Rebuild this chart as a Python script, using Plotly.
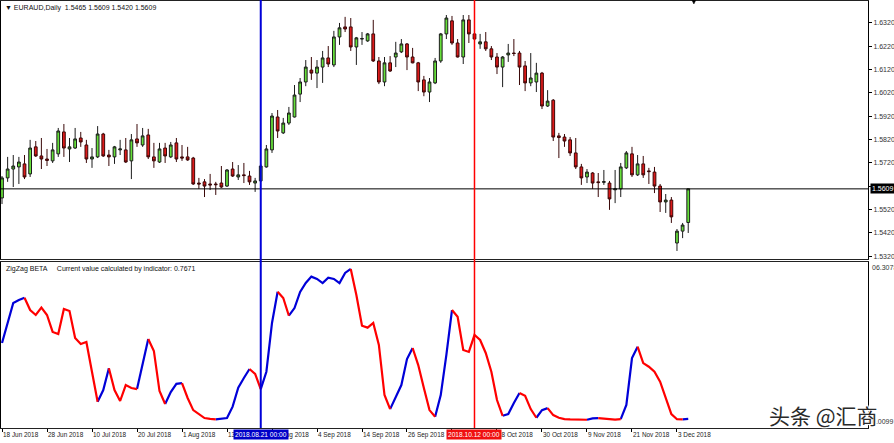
import plotly.graph_objects as go

# ---------------- data ----------------
bar_index = list(range(123))

opens = [1.5570, 1.5656, 1.5694, 1.5703, 1.5716, 1.5673, 1.5789, 1.5750, 1.5737, 1.5729,
         1.5759, 1.5853, 1.5780, 1.5784, 1.5827, 1.5797, 1.5737, 1.5746, 1.5844, 1.5754,
         1.5746, 1.5776, 1.5776, 1.5729, 1.5823, 1.5797, 1.5840, 1.5746, 1.5724, 1.5784,
         1.5746, 1.5806, 1.5746, 1.5746, 1.5741, 1.5634, 1.5639, 1.5630, 1.5630, 1.5634,
         1.5621, 1.5694, 1.5660, 1.5669, 1.5664, 1.5634, 1.5643, 1.5703, 1.5776, 1.5917,
         1.5849, 1.5891, 1.5917, 1.6015, 1.6067, 1.6118, 1.6105, 1.6131, 1.6170, 1.6140,
         1.6260, 1.6303, 1.6303, 1.6217, 1.6251, 1.6243, 1.6273, 1.6157, 1.6067, 1.6149,
         1.6174, 1.6196, 1.6230, 1.6174, 1.6149, 1.6076, 1.6024, 1.6063, 1.6157, 1.6273,
         1.6329, 1.6234, 1.6174, 1.6333, 1.6273, 1.6230, 1.6239, 1.6209, 1.6174, 1.6131,
         1.6183, 1.6191, 1.6191, 1.6136, 1.6063, 1.6067, 1.6105, 1.5964, 1.5989, 1.5836,
         1.5831, 1.5819, 1.5763, 1.5703, 1.5660, 1.5677, 1.5639, 1.5637, 1.5634, 1.5605,
         1.5609, 1.5699, 1.5759, 1.5669, 1.5716, 1.5686, 1.5681, 1.5621, 1.5553, 1.5561,
         1.5377, 1.5428, 1.5465]
highs = [1.5664, 1.5746, 1.5754, 1.5746, 1.5754, 1.5819, 1.5814, 1.5827, 1.5780, 1.5806,
         1.5870, 1.5887, 1.5827, 1.5870, 1.5853, 1.5819, 1.5784, 1.5878, 1.5849, 1.5776,
         1.5793, 1.5819, 1.5827, 1.5844, 1.5887, 1.5870, 1.5866, 1.5806, 1.5806, 1.5806,
         1.5810, 1.5827, 1.5797, 1.5789, 1.5746, 1.5656, 1.5651, 1.5673, 1.5639, 1.5707,
         1.5694, 1.5724, 1.5711, 1.5720, 1.5686, 1.5656, 1.5716, 1.5797, 1.5934, 1.5947,
         1.5913, 1.5960, 1.6054, 1.6084, 1.6161, 1.6174, 1.6161, 1.6200, 1.6221, 1.6286,
         1.6320, 1.6346, 1.6341, 1.6260, 1.6281, 1.6277, 1.6333, 1.6174, 1.6174, 1.6178,
         1.6239, 1.6251, 1.6234, 1.6213, 1.6153, 1.6093, 1.6084, 1.6170, 1.6277, 1.6354,
         1.6350, 1.6251, 1.6354, 1.6354, 1.6333, 1.6273, 1.6281, 1.6221, 1.6191, 1.6178,
         1.6230, 1.6251, 1.6200, 1.6157, 1.6191, 1.6149, 1.6110, 1.6032, 1.5994, 1.5849,
         1.5844, 1.5831, 1.5827, 1.5716, 1.5694, 1.5681, 1.5677, 1.5690, 1.5643, 1.5690,
         1.5720, 1.5771, 1.5789, 1.5754, 1.5750, 1.5699, 1.5703, 1.5630, 1.5587, 1.5574,
         1.5437, 1.5463, 1.5609]
lows = [1.5544, 1.5639, 1.5617, 1.5630, 1.5651, 1.5660, 1.5746, 1.5694, 1.5707, 1.5720,
        1.5746, 1.5746, 1.5724, 1.5780, 1.5789, 1.5720, 1.5699, 1.5741, 1.5746, 1.5707,
        1.5716, 1.5754, 1.5720, 1.5651, 1.5789, 1.5789, 1.5737, 1.5699, 1.5720, 1.5720,
        1.5741, 1.5724, 1.5729, 1.5729, 1.5626, 1.5609, 1.5574, 1.5604, 1.5583, 1.5613,
        1.5617, 1.5660, 1.5647, 1.5634, 1.5626, 1.5596, 1.5639, 1.5700, 1.5763, 1.5827,
        1.5844, 1.5883, 1.5915, 1.5981, 1.6049, 1.6076, 1.6041, 1.6063, 1.6131, 1.6131,
        1.6226, 1.6281, 1.6200, 1.6140, 1.6226, 1.6239, 1.6153, 1.6058, 1.6049, 1.6110,
        1.6131, 1.6191, 1.6118, 1.6147, 1.6028, 1.6006, 1.5981, 1.6058, 1.6149, 1.6251,
        1.6226, 1.6172, 1.6144, 1.6234, 1.6217, 1.6209, 1.6200, 1.6161, 1.6101, 1.6045,
        1.6153, 1.6178, 1.6054, 1.6028, 1.6049, 1.6024, 1.5951, 1.5960, 1.5814, 1.5741,
        1.5789, 1.5750, 1.5694, 1.5626, 1.5634, 1.5609, 1.5574, 1.5626, 1.5519, 1.5548,
        1.5574, 1.5694, 1.5660, 1.5664, 1.5656, 1.5630, 1.5591, 1.5510, 1.5506, 1.5463,
        1.5343, 1.5398, 1.5420]
closes = [1.5656, 1.5694, 1.5707, 1.5724, 1.5660, 1.5784, 1.5750, 1.5737, 1.5731, 1.5776,
          1.5857, 1.5784, 1.5789, 1.5823, 1.5810, 1.5737, 1.5746, 1.5844, 1.5750, 1.5746,
          1.5789, 1.5780, 1.5724, 1.5819, 1.5806, 1.5836, 1.5746, 1.5729, 1.5780, 1.5750,
          1.5797, 1.5737, 1.5741, 1.5733, 1.5630, 1.5630, 1.5621, 1.5626, 1.5627, 1.5617,
          1.5690, 1.5664, 1.5669, 1.5666, 1.5639, 1.5643, 1.5707, 1.5780, 1.5921, 1.5857,
          1.5891, 1.5934, 1.6011, 1.6067, 1.6131, 1.6105, 1.6131, 1.6170, 1.6144, 1.6260,
          1.6299, 1.6294, 1.6217, 1.6256, 1.6253, 1.6273, 1.6157, 1.6067, 1.6149, 1.6114,
          1.6191, 1.6230, 1.6174, 1.6149, 1.6067, 1.6024, 1.6067, 1.6157, 1.6273, 1.6341,
          1.6234, 1.6174, 1.6333, 1.6273, 1.6251, 1.6239, 1.6209, 1.6174, 1.6131, 1.6174,
          1.6191, 1.6189, 1.6131, 1.6063, 1.6084, 1.6105, 1.5964, 1.5985, 1.5831, 1.5829,
          1.5814, 1.5763, 1.5703, 1.5656, 1.5681, 1.5634, 1.5636, 1.5640, 1.5566, 1.5609,
          1.5703, 1.5763, 1.5669, 1.5716, 1.5669, 1.5683, 1.5621, 1.5553, 1.5561, 1.5489,
          1.5428, 1.5454, 1.5609]

zigzag_beta = [54.2, 69.2, 82.4, 84.5, 86.1, 77.4, 73.9, 79.1, 73.9, 62.0,
               60.5, 78.1, 76.7, 57.7, 53.5, 54.9, 33.8, 12.9, 21.1, 36.4,
               21.1, 13.4, 24.6, 22.5, 21.8, 38.7, 57.0, 48.6, 20.4, 11.3,
               19.7, 25.5, 26.0, 15.5, 7.0, 4.2, 1.4, 0.8, 0.5, 0.7,
               1.4, 9.4, 22.7, 29.6, 35.9, 32.4, 21.8, 34.0, 68.3, 90.3,
               85.9, 73.4, 78.8, 90.1, 96.4, 100.9, 99.3, 96.4, 100.2, 99.3,
               96.4, 103.5, 106.3, 88.0, 66.4, 65.0, 68.3, 52.8, 17.6, 7.7,
               16.4, 24.6, 42.9, 50.7, 38.7, 22.5, 7.0, 2.3, 17.6, 45.8,
               77.4, 72.7, 49.3, 47.9, 59.8, 56.3, 47.2, 34.0, 14.1, 3.0,
               4.2, 12.0, 19.0, 17.1, 7.7, 1.6, 7.0, 8.4, 3.5, 1.6,
               0.7, 0.4, 0.3, 0.3, 0.2, 1.2, 1.3, 0.9, 0.4, 0.3,
               0.7, 10.6, 43.6, 51.6, 40.1, 37.5, 34.0, 27.0, 15.5, 4.2,
               0.6, 0.5, 0.77]

# zigzag legs (turning bars); legs alternate up (blue) / down (red)
leg_pivots = [0, 4, 17, 19, 24, 26, 29, 32, 38, 44, 46, 49, 51, 62, 69, 73, 77,
              80, 89, 92, 95, 97, 104, 106, 110, 113, 121, 122]
leg_dirs = ["up", "down", "up", "down", "up", "down", "up", "down", "up", "down",
            "up", "down", "up", "down", "up", "down", "up", "down", "up", "down",
            "up", "down", "up", "down", "up", "down", "up"]

tick_bars = [0, 8, 16, 24, 32, 40, 48, 56, 64, 72, 80, 88, 96, 104, 112, 120]
tick_labels = ["18 Jun 2018", "28 Jun 2018", "10 Jul 2018", "20 Jul 2018", "1 Aug 2018",
               "13 Aug 2018", "23 Aug 2018", "4 Sep 2018", "14 Sep 2018", "26 Sep 2018",
               "8 Oct 2018", "18 Oct 2018", "30 Oct 2018", "9 Nov 2018", "21 Nov 2018",
               "3 Dec 2018"]
price_ticks = [1.5320, 1.5420, 1.5520, 1.5620, 1.5720, 1.5820, 1.5920, 1.6020, 1.6120,
               1.6220, 1.6320]
current_price = 1.5609
blue_line_bar, blue_line_label = 46, "2018.08.21 00:00"
red_line_bar, red_line_label = 84, "2018.10.12 00:00"
ind_max_label = "06.3078"
ind_min_label = "0.0099"

# ---------------- figure ----------------
W, H = 894, 443
ML, MR, MT, MB = 1, 26, 1, 15
plot_h = H - MT - MB


def py(p):
    """pixel row -> paper y"""
    return (H - MB - p) / plot_h


def px(p):
    """pixel column -> paper x"""
    return (p - ML) / (W - ML - MR)


FONT = "Liberation Sans, Arial, sans-serif"
BLUE = "#0000d8"
RED = "#ff0000"

fig = go.Figure()
fig.add_trace(go.Candlestick(
    x=bar_index, open=opens, high=highs, low=lows, close=closes,
    xaxis="x", yaxis="y", whiskerwidth=0, showlegend=False, hoverinfo="skip",
    increasing=dict(line=dict(color="#1c1c1c", width=1), fillcolor="#66e03a"),
    decreasing=dict(line=dict(color="#3a0808", width=1), fillcolor="#dc1a1a"),
))

for color, want in ((BLUE, "up"), (RED, "down")):
    xs, ys = [], []
    for k in range(len(leg_pivots) - 1):
        if leg_dirs[k] != want:
            continue
        a, b = leg_pivots[k], leg_pivots[k + 1]
        xs += bar_index[a:b + 1] + [None]
        ys += zigzag_beta[a:b + 1] + [None]
    fig.add_trace(go.Scatter(x=xs, y=ys, mode="lines", xaxis="x2", yaxis="y2",
                             line=dict(color=color, width=2.2), connectgaps=False,
                             showlegend=False, hoverinfo="skip"))

x_range = [-0.18, 153.96]
main_dom = [py(259), 1.0]
ind_dom = [0.0, py(262)]

fig.update_layout(
    width=W, height=H, margin=dict(l=ML, r=MR, t=MT, b=MB, autoexpand=False),
    paper_bgcolor="white", plot_bgcolor="white",
    font=dict(family=FONT, size=7, color="#222"),
    xaxis=dict(domain=[0, 1], range=x_range, anchor="y", showticklabels=False,
               showgrid=False, zeroline=False, showline=True, mirror=True,
               linecolor="#222", linewidth=1, rangeslider=dict(visible=False)),
    xaxis2=dict(domain=[0, 1], range=x_range, anchor="y2", matches="x",
                tickmode="array", tickvals=tick_bars, showticklabels=False,
                ticks="outside", ticklen=3, tickcolor="#000",
                showgrid=False, zeroline=False, showline=True, mirror=True,
                linecolor="#222", linewidth=1),
    yaxis=dict(domain=main_dom, range=[1.53085, 1.6414], side="right",
               tickmode="array", tickvals=price_ticks,
               ticktext=[f"{v:.4f}" for v in price_ticks],
               ticks="outside", ticklen=3, tickcolor="#000",
               tickfont=dict(size=7, color="#333", family=FONT),
               showgrid=False, zeroline=False, showline=True, mirror=True,
               linecolor="#000", linewidth=1),
    yaxis2=dict(domain=ind_dom, range=[-5.6, 111.2], side="right",
                showticklabels=False, ticks="",
                showgrid=False, zeroline=False, showline=True, mirror=True,
                linecolor="#000", linewidth=1),
)

shapes = [
    dict(type="line", xref="paper", yref="y", x0=0, x1=1, y0=current_price, y1=current_price,
         line=dict(color="#000", width=1)),
    dict(type="line", xref="x", yref="paper", x0=blue_line_bar, x1=blue_line_bar, y0=0, y1=1.003,
         line=dict(color=BLUE, width=2)),
    dict(type="line", xref="x", yref="paper", x0=red_line_bar, x1=red_line_bar, y0=0, y1=1.003,
         line=dict(color=RED, width=1.5)),
    dict(type="path", xref="x", yref="paper",
         path=f"M 122.55 {py(-1)} L 123.45 {py(-1)} L 123.0 {py(4)} Z",
         fillcolor="#000", line=dict(color="#000", width=0.5)),
]
fig.update_layout(shapes=shapes)

ann = []
ann.append(dict(xref="paper", yref="paper", x=0, y=py(2), xshift=2, xanchor="left", yanchor="top",
                text="▼ EURAUD,Daily  1.5465 1.5609 1.5420 1.5609", showarrow=False,
                font=dict(size=7, color="#111", family=FONT)))
ann.append(dict(xref="paper", yref="paper", x=0, y=py(263), xshift=3, xanchor="left", yanchor="top",
                text="ZigZag BETA     Current value calculated by indicator: 0.7671", showarrow=False,
                font=dict(size=7, color="#111", family=FONT)))
for b, lab in zip(tick_bars, tick_labels):
    ann.append(dict(xref="x2", yref="paper", x=b, y=py(429), xanchor="left", yanchor="top",
                    text=lab, showarrow=False, xshift=-1,
                    font=dict(size=6.4, color="#222", family=FONT)))
for b, lab, col in ((blue_line_bar, blue_line_label, "#0000c8"), (red_line_bar, red_line_label, "#f01010")):
    ann.append(dict(xref="x2", yref="paper", x=b, y=py(429), xanchor="center", yanchor="top",
                    text=lab, showarrow=False, bgcolor=col, borderpad=1,
                    font=dict(size=6.6, color="#fff", family=FONT)))
ann.append(dict(xref="paper", yref="y", x=1, y=current_price, xshift=2, xanchor="left", yanchor="middle",
                text=f"{current_price:.4f}", showarrow=False, bgcolor="#000", borderpad=1,
                font=dict(size=7, color="#fff", family=FONT)))
ann.append(dict(xref="paper", yref="paper", x=1, y=py(262), xshift=2, xanchor="left", yanchor="top",
                text=ind_max_label, showarrow=False, font=dict(size=7, color="#333", family=FONT)))
ann.append(dict(xref="paper", yref="paper", x=1, y=py(427), xshift=2, xanchor="left", yanchor="bottom",
                text=ind_min_label, showarrow=False, font=dict(size=7, color="#333", family=FONT)))
ann.append(dict(xref="paper", yref="paper", x=px(823), y=py(415),
                xanchor="center", yanchor="middle", text="头条 @汇商", showarrow=False,
                font=dict(size=21, color="#2a2a2a", family="Noto Sans CJK SC",
                          shadow="1px 1px 1px #fff, -1px -1px 1px #fff, 1px -1px 1px #fff, -1px 1px 1px #fff")))
fig.update_layout(annotations=ann)

fig.write_html("out.html", config={"displayModeBar": False},
               post_script="document.body.style.margin='0';document.body.style.padding='0';")
